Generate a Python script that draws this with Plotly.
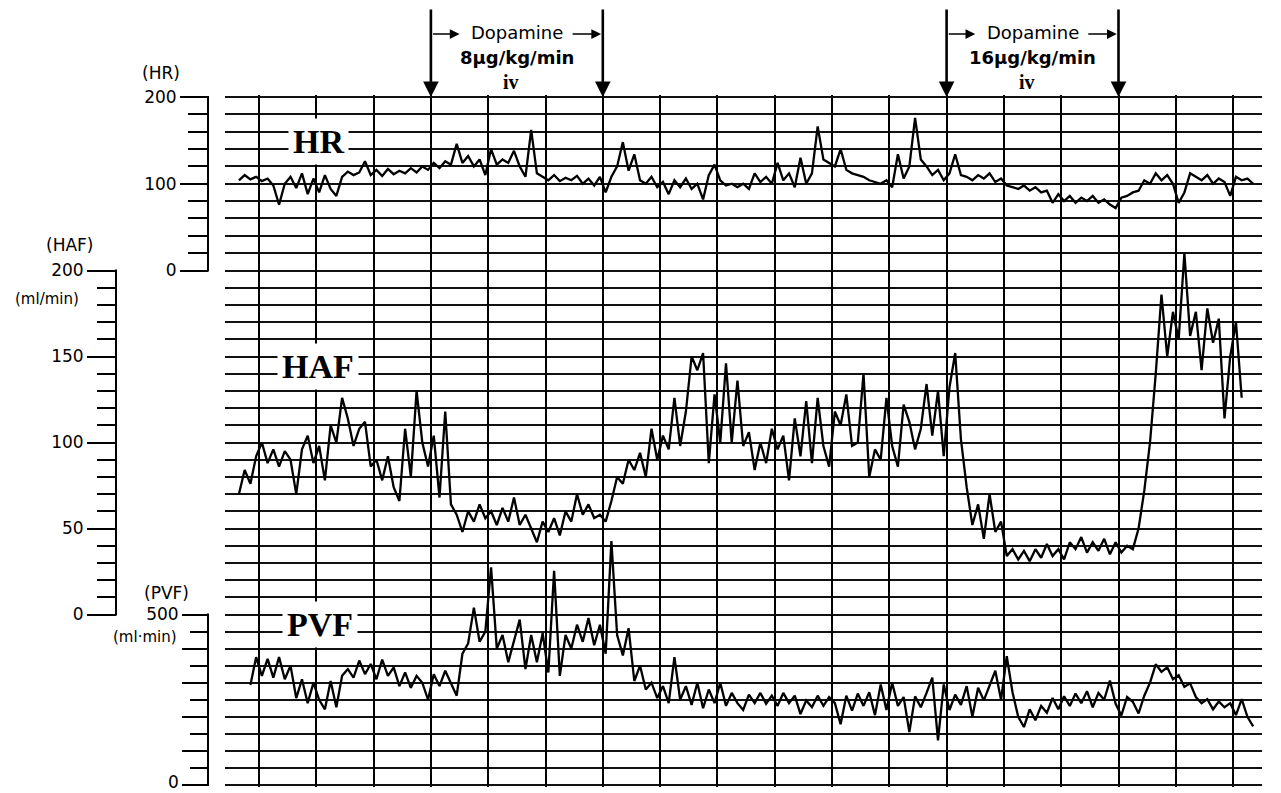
import numpy as np
import plotly.graph_objects as go

W, H = 1281, 793

# ---------------- data (read from the recording) ----------------
# time is measured in chart divisions (one vertical grid line per division)
t_step = 0.1
hr_t0 = -0.35
haf_t0 = -0.35
pvf_t0 = -0.15

hr_values = [104, 110, 105, 108, 103, 106, 98, 76, 100, 108,
             95, 112, 88, 106, 90, 110, 94, 86, 108, 114,
             110, 113, 126, 110, 116, 109, 117, 111, 115, 112,
             118, 113, 120, 116, 124, 118, 126, 122, 146, 124,
             132, 120, 128, 110, 140, 122, 128, 124, 138, 120,
             108, 162, 112, 108, 104, 110, 103, 107, 104, 109,
             100, 106, 98, 108, 90, 108, 120, 148, 115, 134,
             104, 100, 108, 96, 102, 88, 104, 96, 106, 94,
             100, 82, 110, 122, 104, 98, 100, 96, 100, 94,
             112, 102, 108, 100, 124, 104, 112, 96, 130, 100,
             112, 166, 128, 124, 120, 140, 116, 112, 110, 108,
             104, 102, 100, 104, 96, 134, 106, 120, 176, 128,
             120, 110, 116, 104, 112, 134, 110, 108, 104, 110,
             106, 112, 102, 106, 98, 96, 94, 98, 92, 96,
             90, 92, 78, 88, 80, 86, 78, 84, 80, 86,
             78, 82, 76, 72, 84, 86, 90, 92, 104, 100,
             112, 104, 110, 100, 78, 90, 112, 108, 104, 110,
             100, 106, 102, 86, 108, 104, 106, 100]

haf_values = [70, 84, 76, 92, 100, 88, 96, 86, 95, 90,
              70, 96, 104, 88, 98, 78, 110, 100, 126, 114,
              98, 108, 112, 86, 90, 78, 92, 74, 66, 108,
              80, 130, 100, 86, 104, 68, 118, 64, 58, 48,
              60, 54, 64, 56, 60, 52, 62, 54, 68, 52,
              58, 50, 42, 54, 48, 56, 46, 60, 54, 70,
              58, 64, 56, 58, 54, 66, 80, 76, 90, 84,
              94, 80, 108, 90, 104, 96, 126, 98, 118, 150,
              142, 152, 88, 128, 100, 146, 100, 136, 98, 106,
              84, 100, 88, 108, 96, 104, 78, 114, 92, 124,
              88, 126, 98, 86, 118, 110, 128, 98, 100, 140,
              80, 96, 90, 126, 98, 86, 122, 112, 96, 108,
              134, 104, 130, 92, 132, 152, 102, 74, 52, 64,
              44, 70, 48, 54, 34, 38, 32, 37, 31, 38,
              33, 41, 34, 38, 32, 42, 38, 45, 36, 42,
              37, 44, 35, 42, 36, 40, 38, 50, 72, 100,
              140, 186, 150, 176, 160, 210, 162, 176, 142, 178,
              158, 172, 114, 150, 170, 126]

pvf_values = [293, 375, 320, 370, 315, 375, 310, 350, 255, 310,
              240, 300, 250, 222, 305, 228, 320, 340, 315, 365,
              325, 355, 310, 368, 320, 345, 290, 330, 285, 320,
              300, 250, 325, 290, 335, 300, 262, 385, 415, 520,
              420, 450, 638, 400, 440, 360, 420, 485, 340, 440,
              360, 445, 330, 628, 320, 440, 400, 470, 420, 490,
              410, 470, 385, 715, 440, 380, 460, 305, 350, 280,
              300, 255, 290, 240, 375, 250, 290, 235, 300, 225,
              280, 240, 300, 232, 270, 240, 220, 265, 240, 270,
              238, 262, 232, 270, 240, 262, 208, 248, 228, 262,
              232, 258, 240, 178, 262, 218, 268, 232, 272, 205,
              295, 220, 300, 232, 258, 155, 260, 228, 270, 315,
              131, 295, 220, 265, 235, 290, 200, 285, 248, 292,
              335, 250, 378, 272, 200, 170, 222, 190, 232, 212,
              255, 222, 260, 232, 268, 240, 275, 228, 270, 250,
              306, 238, 204, 258, 244, 210, 262, 300, 354, 332,
              345, 310, 322, 288, 298, 258, 240, 252, 222, 245,
              228, 240, 205, 252, 200, 172]

hr_ticks = [0, 100, 200]
haf_ticks = [0, 50, 100, 150, 200]
pvf_ticks = [0, 100, 200, 300, 400, 500]
pvf_ticktext = ["", "", "", "", "", "500"]
pvf_bottom_label = "0"

# dopamine infusions: (start division, stop division, dose label)
dopamine_periods = [(3, 6, "8\u03bcg/kg/min"), (12, 15, "16\u03bcg/kg/min")]


def times(t0, n):
    return np.round(t0 + t_step * np.arange(n), 3)


# ---------------- geometry (pixels of the 1281x793 page) ----------------
def fx(p):
    return p / W


def fy(p):
    return 1 - p / H


GRID_X0, GRID_X1 = 225, 1262
LINE0_PX, DIV_PX = 259, 57.3
HR_TOP, HR_BOT = 97, 270.5
HAF_TOP, HAF_BOT = 270.5, 614.5
PVF_TOP, PVF_BOT = 614.5, 785
PAD = 2.0  # small overshoot so the end grid lines are interior to each scale

x_range = [(GRID_X0 - LINE0_PX) / DIV_PX, (GRID_X1 - LINE0_PX) / DIV_PX]

fig = go.Figure()
line_style = dict(color="black", width=2.3)
fig.add_trace(go.Scatter(x=times(hr_t0, len(hr_values)), y=hr_values, mode="lines",
                         line=line_style, yaxis="y", hoverinfo="skip"))
fig.add_trace(go.Scatter(x=times(haf_t0, len(haf_values)), y=haf_values, mode="lines",
                         line=line_style, yaxis="y4", hoverinfo="skip"))
fig.add_trace(go.Scatter(x=times(pvf_t0, len(pvf_values)), y=pvf_values, mode="lines",
                         line=line_style, yaxis="y5", hoverinfo="skip"))
# invisible traces so the printed scales own a subplot (their grid lines are drawn)
fig.add_trace(go.Scatter(x=[None], y=[None], yaxis="y2", hoverinfo="skip"))
fig.add_trace(go.Scatter(x=[None], y=[None], yaxis="y3", hoverinfo="skip"))

tickfont = dict(family="DejaVu Sans", size=17, color="black")
grid_col = "#111111"


def vis_axis(top, bot, vmax, major_vals, ticktext, minor_dtick, xpos, major_len, minor_len):
    per_px = vmax / (bot - top)
    return dict(
        domain=[fy(bot + PAD), fy(top - PAD)], range=[-PAD * per_px, vmax + PAD * per_px],
        anchor="free", position=fx(xpos), automargin=False, ticklabeloverflow="allow",
        showline=False,
        tickmode="array", tickvals=major_vals, ticktext=ticktext,
        ticks="outside", ticklen=major_len, tickwidth=2, tickcolor="black",
        tickfont=tickfont, showgrid=True, gridcolor=grid_col, gridwidth=1.6,
        zeroline=False,
        minor=dict(tickmode="linear", tick0=0, dtick=minor_dtick, ticks="outside",
                   ticklen=minor_len, tickwidth=2, tickcolor="black",
                   showgrid=True, gridcolor=grid_col, gridwidth=1.6),
    )


hidden = dict(showgrid=False, showline=False, zeroline=False, showticklabels=False,
              ticks="", automargin=False)

# extended (invisible) scales for the traces so peaks above the printed scale are not clipped
haf_ext_top = 200 * (HAF_BOT - HR_TOP) / (HAF_BOT - HAF_TOP)
pvf_ext_top = 500 * (PVF_BOT - HR_TOP) / (PVF_BOT - PVF_TOP)

fig.update_layout(
    width=W, height=H, margin=dict(l=0, r=0, t=0, b=0, autoexpand=False),
    paper_bgcolor="white", plot_bgcolor="rgba(0,0,0,0)", showlegend=False,
    xaxis=dict(domain=[fx(GRID_X0), fx(GRID_X1)], range=x_range, anchor="y3",
               showgrid=True, tick0=0, dtick=1, gridcolor="black", gridwidth=2.2,
               zeroline=False, showticklabels=False, ticks="", showline=False,
               automargin=False),
    yaxis=vis_axis(HR_TOP, HR_BOT, 200, hr_ticks, [str(v) for v in hr_ticks], 20, 208, 28, 20),
    yaxis2=vis_axis(HAF_TOP, HAF_BOT, 200, haf_ticks, [str(v) for v in haf_ticks], 10, 116, 29, 19),
    yaxis3=vis_axis(PVF_TOP, PVF_BOT, 500, pvf_ticks, pvf_ticktext, 50, 208, 26, 18),
    yaxis4=dict(domain=[fy(HAF_BOT), fy(HR_TOP)], range=[0, haf_ext_top], anchor="free",
                position=fx(GRID_X0), **hidden),
    yaxis5=dict(domain=[fy(PVF_BOT), fy(HR_TOP)], range=[0, pvf_ext_top], anchor="free",
                position=fx(GRID_X0), **hidden),
)

# the printed scale bars (vertical lines of the three scales)
shapes = []
for xpos, top, bot in [(208, HR_TOP, HR_BOT), (116, HAF_TOP, HAF_BOT), (208, PVF_TOP, PVF_BOT)]:
    shapes.append(dict(type="line", xref="paper", yref="paper", x0=fx(xpos), x1=fx(xpos),
                       y0=fy(top - 1), y1=fy(bot + 1), line=dict(color="black", width=2)))
fig.update_layout(shapes=shapes)

ann = []
# axis captions
cap = dict(family="DejaVu Sans", size=17, color="black")
small = dict(family="DejaVu Sans", size=15, color="black")
for txt, x, y, f in [("(HR)", 161, 73, cap), ("(HAF)", 69, 245, cap), ("(ml/min)", 47, 299, small),
                     ("(PVF)", 166, 593, cap), ("(ml\u00b7min)", 145, 637, small),
                     (pvf_bottom_label, 173, 782, cap)]:
    ann.append(dict(text=txt, x=fx(x), y=fy(y), xref="paper", yref="paper", showarrow=False,
                    font=f, xanchor="center", yanchor="middle"))

# trace names with a white box over the grid
big = dict(family="Liberation Serif", size=34, color="black")
for txt, x, y in [("<b>HR</b>", 318, 141), ("<b>HAF</b>", 318, 366), ("<b>PVF</b>", 320, 624)]:
    ann.append(dict(text=txt, x=fx(x), y=fy(y), xref="paper", yref="paper", showarrow=False,
                    font=big, bgcolor="white", borderpad=4, xanchor="center", yanchor="middle"))

# dopamine markers
for start, stop, dose in dopamine_periods:
    for v in (start, stop):
        ann.append(dict(text="", x=v, y=fy(HR_TOP), xref="x", yref="paper", showarrow=True,
                        ax=0, ay=-89, arrowhead=2, arrowsize=1.2, arrowwidth=2.6,
                        arrowcolor="black"))
    mid = (start + stop) / 2
    ann.append(dict(text="", x=start + 0.5, y=fy(34), xref="x", yref="paper", showarrow=True,
                    ax=-28, ay=0, arrowhead=2, arrowsize=1.3, arrowwidth=1.5, arrowcolor="black"))
    ann.append(dict(text="", x=stop - 0.03, y=fy(34), xref="x", yref="paper", showarrow=True,
                    ax=-30, ay=0, arrowhead=2, arrowsize=1.3, arrowwidth=1.5, arrowcolor="black"))
    ann.append(dict(text="Dopamine", x=mid, y=fy(33), xref="x", yref="paper", showarrow=False,
                    xanchor="center", yanchor="middle",
                    font=dict(family="DejaVu Sans", size=18, color="black")))
    ann.append(dict(text="<b>" + dose + "</b>", x=mid, y=fy(58), xref="x", yref="paper",
                    xanchor="center", yanchor="middle",
                    showarrow=False, font=dict(family="DejaVu Sans", size=18, color="black")))
    ann.append(dict(text="<b>iv</b>", x=mid - 0.1, y=fy(82), xref="x", yref="paper",
                    xanchor="center", yanchor="middle",
                    showarrow=False, font=dict(family="Liberation Serif", size=20, color="black")))

fig.update_layout(annotations=ann)
fig.write_html("out.html")
